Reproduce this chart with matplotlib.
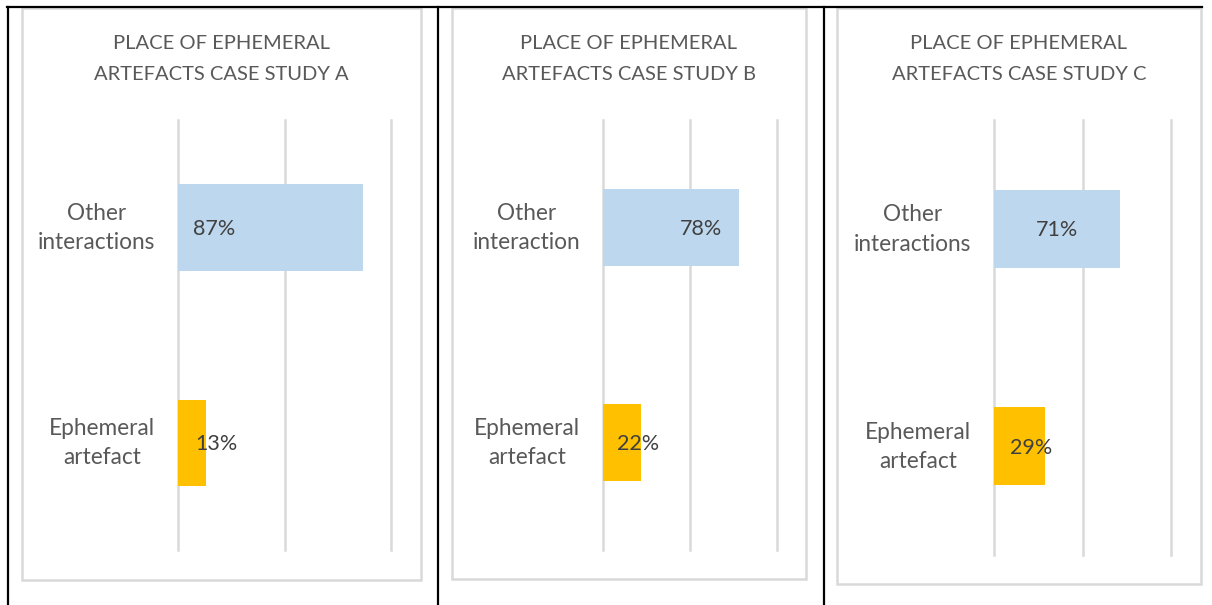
import matplotlib
matplotlib.use("Agg")
import matplotlib.pyplot as plt
from matplotlib.patches import Rectangle

plt.rcParams['font.family'] = ['Lato', 'DejaVu Sans']

# data for the three case studies (share of interactions)
titles = ["PLACE OF EPHEMERAL\nARTEFACTS CASE STUDY A",
          "PLACE OF EPHEMERAL\nARTEFACTS CASE STUDY B",
          "PLACE OF EPHEMERAL\nARTEFACTS CASE STUDY C"]
categories_a = ["Ephemeral\nartefact", "Other\ninteractions"]
categories_b = ["Ephemeral\nartefact", "Other\ninteraction"]
categories_c = ["Ephemeral\nartefact", "Other\ninteractions"]
values_a = [0.13, 0.87]
values_b = [0.22, 0.78]
values_c = [0.29, 0.71]

bar_colors = ["#FFC000", "#BDD7EE"]
text_grey = "#595959"
grid_grey = "#D9D9D9"

W, H = 1212, 605
fig = plt.figure(figsize=(W / 100, H / 100), dpi=100)

# page layer in pixel units: table rules and chart frames
page = fig.add_axes([0, 0, 1, 1], zorder=0)
page.set_xlim(0, W)
page.set_ylim(H, 0)
page.axis("off")

frames = [(22, 8, 421, 580), (452, 8, 806, 579), (837, 8, 1201, 584)]
for x0, y0, x1, y1 in frames:
    page.add_patch(Rectangle((x0, y0), x1 - x0, y1 - y0, fill=False,
                             edgecolor=grid_grey, linewidth=1.8))
page.plot([7, 1202], [7, 7], color="black", linewidth=1.6)
for x in [8, 438, 824]:
    page.plot([x, x], [7, H], color="black", linewidth=1.6)

# plot areas (pixels: left, top, right, bottom)
areas = [(178, 120, 391, 550), (603, 120, 777, 550), (994, 120, 1171, 555)]
bar_heights = [0.40, 0.36, 0.36]
# how Excel placed the value labels: anchor + pixel nudge per bar
label_modes = ["base", "end", "center"]
label_nudges = [[17, 15], [18, -17], [11, 0]]

charts = [(categories_a, values_a), (categories_b, values_b), (categories_c, values_c)]

for i, (cats, vals) in enumerate(charts):
    l, t, r, b = areas[i]
    ax = fig.add_axes([l / W, 1 - b / H, (r - l) / W, (b - t) / H], zorder=1)
    ax.patch.set_alpha(0)
    y = list(range(len(cats)))
    ax.barh(y, vals, height=bar_heights[i], color=bar_colors, zorder=2)
    ax.set_xlim(0, 1)
    ax.set_ylim(-0.5, 1.5)
    ax.set_xticks([0, 0.5, 1])
    ax.set_xticklabels([])
    ax.set_yticks([])
    ax.grid(axis="x", color=grid_grey, linewidth=1.8, zorder=0)
    for gl in ax.get_xgridlines():
        gl.set_clip_on(False)
    ax.tick_params(length=0)
    for s in ax.spines.values():
        s.set_visible(False)

    # category names, right-aligned block with centred lines
    for j, cat in enumerate(cats):
        ax.annotate(cat, xy=(0, j), xytext=(-16.5, -0.5), textcoords="offset points",
                    ha="right", va="center", multialignment="center",
                    fontsize=16.3, color=text_grey, linespacing=1.48,
                    annotation_clip=False)

    for j, v in enumerate(vals):
        mode = label_modes[i]
        if mode == "base":
            x, ha = 0, "left"
        elif mode == "end":
            x, ha = v, "right"
        else:
            x, ha = v / 2, "center"
        ax.annotate(f"{round(v * 100)}%", xy=(x, j),
                    xytext=(label_nudges[i][j] * 0.72, -1), textcoords="offset points",
                    ha=ha, va="center", fontsize=15.5, color="#404040", zorder=3)

    x0, _, x1, _ = frames[i]
    fig.text((x0 + x1) / 2 / W, 1 - 59 / H, titles[i], ha="center", va="center",
             fontsize=14.5, color=text_grey, linespacing=1.95)

fig.savefig("out.png", dpi=100)
